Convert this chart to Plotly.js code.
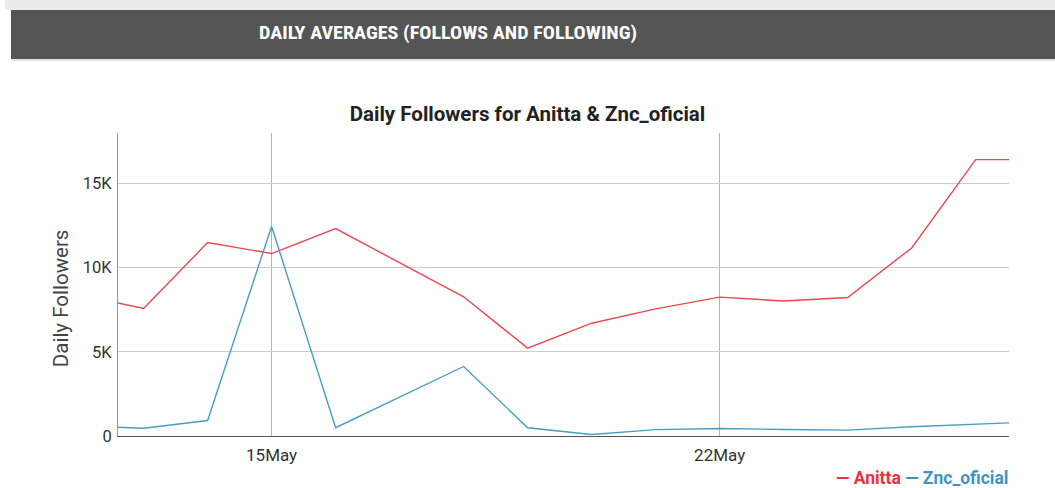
<!DOCTYPE html>
<html>
<head>
<meta charset="utf-8">
<script src="https://cdn.plot.ly/plotly-3.0.1.min.js"></script>
<style>
  html, body { margin: 0; padding: 0; background: #ffffff; }
  #wrap { position: relative; width: 1055px; height: 488px; overflow: hidden; }
  #topstrip { position: absolute; left: 5px; top: 0; width: 1050px; height: 10px; background: #ebebed; }
  #header { position: absolute; left: 11px; top: 10px; width: 1044px; height: 49px; background: #555555;
            border-bottom: 2px solid #e2e2e2; box-sizing: content-box; }
  #header span { position: absolute; left: 248px; top: 13px; color: #ffffff; font-weight: bold;
            font-family: "Liberation Sans Narrow", "Roboto Condensed", "Arial Narrow", sans-serif; font-size: 18px;
            line-height: 20px; white-space: nowrap; transform-origin: 0 50%; display: inline-block; }
  #chart { position: absolute; left: 0; top: 0; width: 1055px; height: 488px; }
</style>
</head>
<body>
<div id="wrap">
  <div id="chart"></div>
  <div id="topstrip"></div>
  <div id="header"><span id="htext">DAILY AVERAGES (FOLLOWS AND FOLLOWING)</span></div>
</div>
<script>
// ---- data ----
const dates = [
  '2019-05-12 14:24', '2019-05-13', '2019-05-14', '2019-05-15', '2019-05-16',
  '2019-05-18', '2019-05-19', '2019-05-20', '2019-05-21', '2019-05-22',
  '2019-05-23', '2019-05-24', '2019-05-25', '2019-05-26', '2019-05-26 12:30'
];
const anitta = [7900, 7580, 11490, 10840, 12320, 8270, 5220, 6700, 7550, 8250, 8020, 8230, 11170, 16420, 16420];
const zncOficial = [520, 460, 920, 12450, 490, 4130, 490, 90, 380, 450, 390, 350, 550, 690, 780];
const seriesNames = ['Anitta', 'Znc_oficial'];
const xTickVals = ['2019-05-15', '2019-05-22'];
const xTickText = ['15May', '22May'];
const yTickVals = [0, 5000, 10000, 15000];
const yTickText = ['0', '5K', '10K', '15K'];
const chartTitle = 'Daily Followers for Anitta & Znc_oficial';
const yTitle = 'Daily Followers';
const headerText = 'DAILY AVERAGES (FOLLOWS AND FOLLOWING)';

const red = '#e8484f';
const blue = '#4b9cc4';

// fit header text to its width in the reference
const hs = document.getElementById('htext');
hs.textContent = headerText;
const hw = hs.getBoundingClientRect().width;
if (hw > 0) hs.style.transform = 'scaleX(' + (378 / hw) + ')';

const traces = [
  { x: dates, y: anitta, name: seriesNames[0], type: 'scatter', mode: 'lines',
    line: { color: red, width: 1.4 }, showlegend: false },
  { x: dates, y: zncOficial, name: seriesNames[1], type: 'scatter', mode: 'lines',
    line: { color: blue, width: 1.4 }, showlegend: false }
];

const layout = {
  width: 1055, height: 488,
  margin: { l: 118, r: 46, t: 132.5, b: 51.5, pad: 0 },
  paper_bgcolor: '#ffffff', plot_bgcolor: '#ffffff',
  font: { family: 'Roboto, sans-serif', color: '#444444' },
  title: { text: '<b>' + chartTitle + '</b>', x: 0.5, xanchor: 'center', y: 1, yref: 'paper',
           yanchor: 'bottom', pad: { b: 12.5 }, font: { family: 'Roboto, sans-serif', size: 20.5, color: '#222222' } },
  xaxis: {
    type: 'date', range: [dates[0], dates[dates.length - 1]],
    tickmode: 'array', tickvals: xTickVals, ticktext: xTickText,
    showgrid: true, gridcolor: '#b5b5b5', gridwidth: 1,
    showline: true, linecolor: '#555555', linewidth: 1.2,
    ticks: '', ticklabelstandoff: 3,
    tickfont: { size: 17, color: '#333333' }, zeroline: false, fixedrange: true
  },
  yaxis: {
    range: [0, 18000],
    tickmode: 'array', tickvals: yTickVals, ticktext: yTickText,
    showgrid: true, gridcolor: '#cccccc', gridwidth: 1,
    showline: true, linecolor: '#999999', linewidth: 1,
    ticks: '', ticklabelstandoff: 2,
    tickfont: { size: 16.5, color: '#333333' }, zeroline: false, fixedrange: true
  },
  annotations: [
    { text: yTitle, xref: 'paper', yref: 'paper', x: -0.0639, y: 0.455, xanchor: 'center', yanchor: 'middle',
      textangle: -90, showarrow: false, font: { family: 'Roboto, sans-serif', size: 20.5, color: '#444444' } },
    { text: '<b><span style="color:#e8333b">— ' + seriesNames[0] + '</span> <span style="color:#3f95c2">— ' + seriesNames[1] + '</span></b>',
      xref: 'paper', yref: 'paper', x: 1, y: -0.102, xanchor: 'right', yanchor: 'top', showarrow: false,
      borderpad: 0, font: { family: 'Roboto, sans-serif', size: 17.5 } }
  ]
};

Plotly.newPlot('chart', traces, layout, { displayModeBar: false, staticPlot: true });
</script>
</body>
</html>
